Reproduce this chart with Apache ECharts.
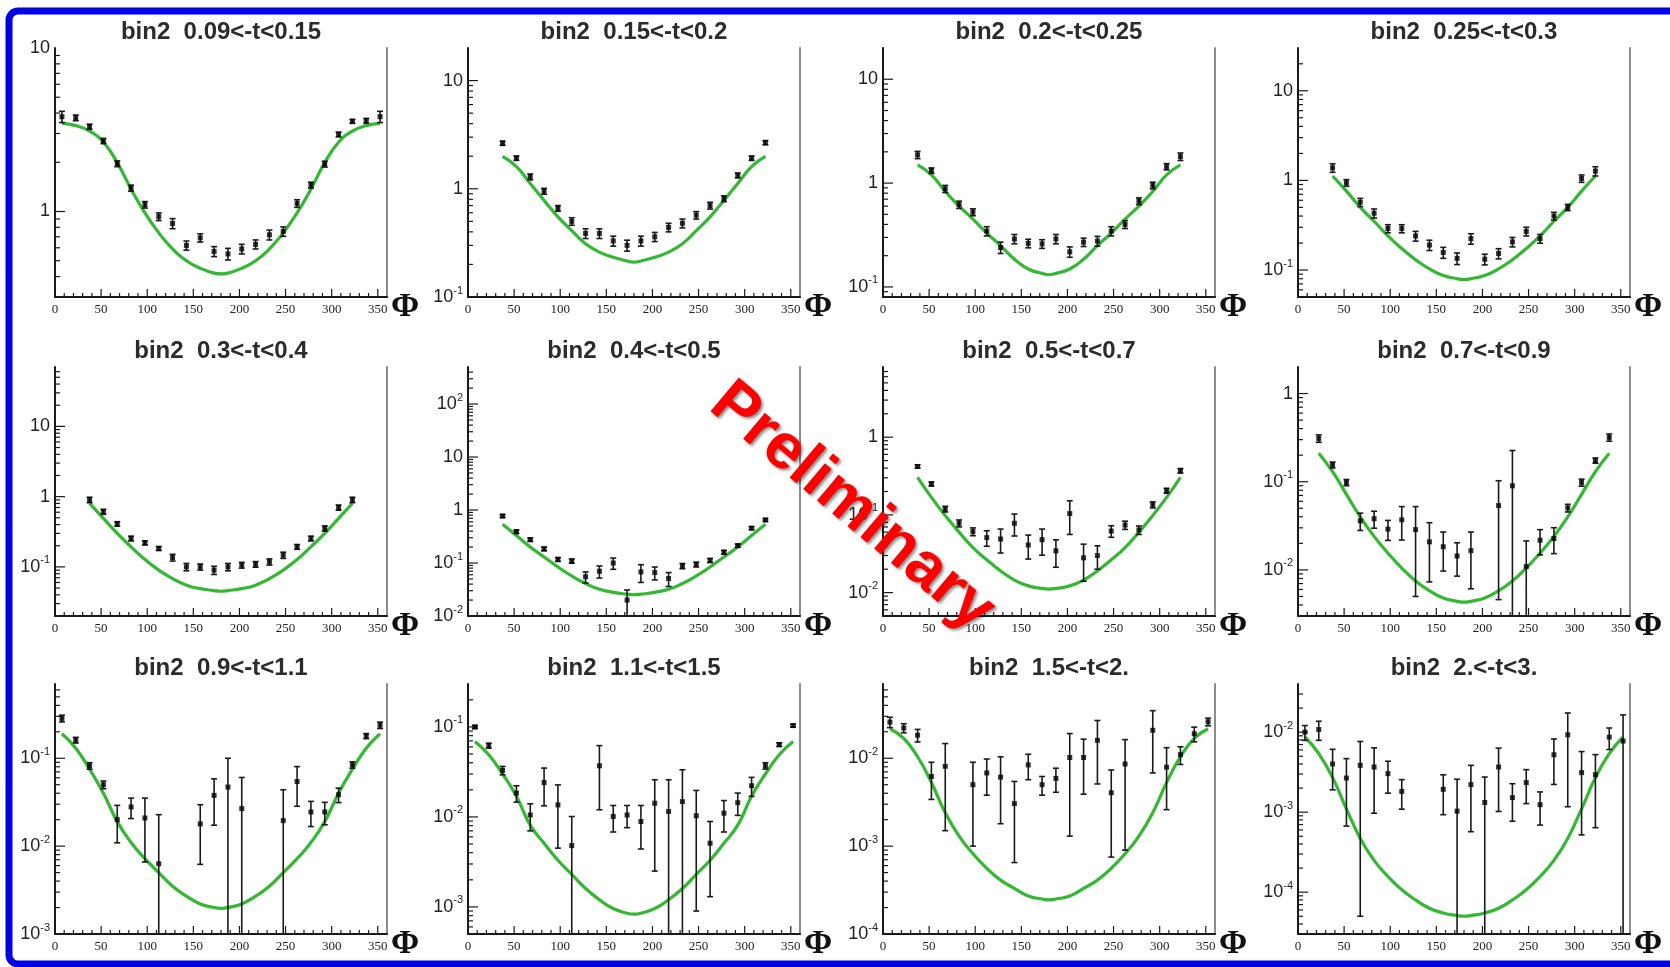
<!DOCTYPE html>
<html><head><meta charset="utf-8">
<script src="https://cdn.jsdelivr.net/npm/echarts@6/dist/echarts.min.js"></script>
<style>html,body{margin:0;padding:0;background:#fff}#c{width:1670px;height:967px}</style>
</head><body><div id="c"></div>
<script>
// ---------------- data ----------------
const titles = ['bin2  0.09<-t<0.15','bin2  0.15<-t<0.2','bin2  0.2<-t<0.25','bin2  0.25<-t<0.3',
  'bin2  0.3<-t<0.4','bin2  0.4<-t<0.5','bin2  0.5<-t<0.7','bin2  0.7<-t<0.9',
  'bin2  0.9<-t<1.1','bin2  1.1<-t<1.5','bin2  1.5<-t<2.','bin2  2.<-t<3.'];
const yRanges = [[0.3,10],[0.1,20],[0.08,20],[0.05,30],[0.02,70],[0.01,500],[0.005,8],[0.003,2],
  [0.001,0.7],[0.0005,0.3],[0.0001,0.07],[0.00003,0.04]];
const xTickLabels = [0,50,100,150,200,250,300,350];

const phiFull = [7.5,22.5,37.5,52.5,67.5,82.5,97.5,112.5,127.5,142.5,157.5,172.5,187.5,202.5,217.5,232.5,247.5,262.5,277.5,292.5,307.5,322.5,337.5,352.5];
const phiMid = [37.5,52.5,67.5,82.5,97.5,112.5,127.5,142.5,157.5,172.5,187.5,202.5,217.5,232.5,247.5,262.5,277.5,292.5,307.5,322.5];
const phi8 = [22.5,37.5,52.5,67.5,82.5,97.5,112.5,127.5,142.5,157.5,172.5,187.5,217.5,232.5,247.5,262.5,277.5,292.5,307.5,322.5,337.5];
const phi9 = [7.5,22.5,37.5,52.5,67.5,82.5,97.5,112.5,157.5,172.5,187.5,202.5,247.5,262.5,277.5,292.5,307.5,322.5,337.5,352.5];
const phi10 = [7.5,22.5,37.5,52.5,67.5,82.5,97.5,112.5,142.5,157.5,172.5,187.5,202.5,217.5,232.5,247.5,262.5,277.5,292.5,307.5,322.5,337.5,352.5];
const phi11 = [7.5,22.5,37.5,52.5,67.5,97.5,112.5,127.5,142.5,157.5,172.5,187.5,202.5,217.5,232.5,247.5,262.5,292.5,307.5,322.5,337.5,352.5];
const phi12 = [7.5,22.5,37.5,52.5,67.5,82.5,97.5,112.5,157.5,172.5,187.5,202.5,217.5,232.5,247.5,262.5,277.5,292.5,307.5,322.5,337.5,352.5];

// phi positions where the fitted curves were read
const curvePhiFull = [7.5,22.5,37.5,52.5,67.5,82.5,97.5,112.5,127.5,142.5,157.5,172.5,180,187.5,202.5,217.5,232.5,247.5,262.5,277.5,292.5,307.5,322.5,337.5,352.5];
const curvePhiMid = [37.5,52.5,67.5,82.5,97.5,112.5,127.5,142.5,157.5,172.5,180,187.5,202.5,217.5,232.5,247.5,262.5,277.5,292.5,307.5,322.5];
const curvePhi8 = [22.5,37.5,52.5,67.5,82.5,97.5,112.5,127.5,142.5,157.5,172.5,180,187.5,202.5,217.5,232.5,247.5,262.5,277.5,292.5,307.5,322.5,337.5];

const val1 = [3.8,3.74,3.3,2.7,1.96,1.39,1.1,0.93,0.845,0.62,0.69,0.57,0.55,0.59,0.63,0.72,0.755,1.12,1.45,1.95,2.96,3.56,3.59,3.8];
const err1 = [0.3,0.15,0.12,0.1,0.08,0.06,0.05,0.05,0.06,0.04,0.04,0.04,0.045,0.04,0.04,0.05,0.05,0.06,0.06,0.08,0.1,0.1,0.12,0.3];
const curve1 = [3.46,3.35,3.1,2.65,1.99,1.37,0.98,0.74,0.59,0.5,0.45,0.42,0.415,0.42,0.45,0.5,0.59,0.74,0.98,1.37,1.99,2.65,3.1,3.35,3.46];

const val2 = [2.64,1.92,1.29,0.95,0.66,0.5,0.387,0.387,0.33,0.30,0.33,0.36,0.44,0.48,0.57,0.70,0.81,1.33,1.92,2.67];
const err2 = [0.12,0.09,0.08,0.06,0.04,0.04,0.04,0.04,0.035,0.035,0.035,0.035,0.04,0.045,0.045,0.05,0.05,0.07,0.09,0.12];
const curve2 = [1.99,1.6,1.12,0.78,0.55,0.41,0.31,0.26,0.233,0.215,0.21,0.215,0.233,0.26,0.31,0.41,0.55,0.78,1.12,1.6,1.99];

const val3 = [1.87,1.32,0.88,0.62,0.525,0.345,0.24,0.29,0.263,0.26,0.29,0.218,0.27,0.277,0.345,0.40,0.67,0.95,1.44,1.8];
const err3 = [0.15,0.08,0.07,0.05,0.04,0.035,0.03,0.03,0.025,0.025,0.03,0.025,0.025,0.03,0.035,0.035,0.05,0.07,0.1,0.15];
const curve3 = [1.5,1.2,0.83,0.6,0.45,0.33,0.25,0.185,0.149,0.135,0.131,0.135,0.149,0.185,0.25,0.33,0.45,0.6,0.83,1.2,1.5];

const val4 = [1.38,0.94,0.57,0.43,0.29,0.29,0.24,0.19,0.157,0.135,0.224,0.132,0.153,0.206,0.27,0.224,0.40,0.50,1.05,1.27];
const err4 = [0.15,0.08,0.06,0.05,0.03,0.03,0.03,0.025,0.022,0.02,0.03,0.018,0.02,0.025,0.03,0.025,0.04,0.04,0.1,0.15];
const curve4 = [1.12,0.76,0.5,0.35,0.24,0.174,0.13,0.103,0.087,0.08,0.078,0.08,0.087,0.103,0.13,0.174,0.24,0.35,0.5,0.76,1.12];

const val5 = [0.9,0.61,0.41,0.254,0.22,0.183,0.136,0.1,0.1,0.09,0.1,0.106,0.109,0.118,0.147,0.193,0.254,0.353,0.70,0.9];
const err5 = [0.08,0.05,0.03,0.02,0.015,0.012,0.015,0.012,0.01,0.012,0.012,0.01,0.01,0.012,0.015,0.015,0.02,0.03,0.06,0.08];
const curve5 = [0.8,0.49,0.3,0.193,0.127,0.09,0.068,0.055,0.049,0.046,0.045,0.046,0.049,0.055,0.068,0.09,0.127,0.193,0.3,0.49,0.8];

const val6 = [0.77,0.39,0.276,0.185,0.117,0.109,0.055,0.07,0.1,0.02,0.068,0.066,0.051,0.088,0.094,0.112,0.16,0.213,0.455,0.65];
const err6 = [0.05,0.03,0.02,0.015,0.01,0.01,0.013,0.018,0.024,0.011,0.025,0.018,0.015,0.01,0.01,0.01,0.013,0.015,0.03,0.04];
const curve6 = [0.54,0.33,0.2,0.13,0.084,0.057,0.041,0.032,0.028,0.0258,0.0252,0.0258,0.028,0.032,0.041,0.057,0.084,0.13,0.2,0.33,0.54];

const val7 = [0.42,0.25,0.119,0.078,0.061,0.051,0.049,0.078,0.041,0.048,0.0345,0.104,0.028,0.030,0.062,0.074,0.064,0.135,0.205,0.37];
const err7 = [0.02,0.015,0.01,0.008,0.007,0.0115,0.0167,0.0245,0.014,0.0177,0.0133,0.048,0.014,0.01,0.0105,0.009,0.008,0.012,0.015,0.025];
const curve7 = [0.305,0.168,0.098,0.06,0.038,0.0265,0.019,0.0145,0.0122,0.0113,0.0111,0.0113,0.0122,0.0145,0.019,0.0265,0.038,0.06,0.098,0.168,0.305];

const val8 = [0.31,0.155,0.098,0.036,0.038,0.029,0.037,0.0286,0.0208,0.0183,0.0144,0.0165,0.0536,0.0898,0.0109,0.0217,0.0227,0.0504,0.098,0.174,0.318];
const err8 = [0.03,0.012,0.008,0.008,0.0083,0.0074,0.0152,0.0236,0.0135,0.0086,0.0059,0.0104,0.049,0.136,0.0104,0.0069,0.0074,0.005,0.009,0.012,0.03];
const curve8 = [0.21,0.13,0.072,0.04,0.024,0.0155,0.0105,0.0075,0.0058,0.0048,0.0044,0.0043,0.0044,0.0048,0.0058,0.0075,0.0105,0.0155,0.024,0.04,0.072,0.13,0.21];

const val9 = [0.284,0.161,0.082,0.050,0.020,0.0279,0.0209,0.0063,0.0179,0.0378,0.047,0.0267,0.0195,0.0544,0.0245,0.0245,0.0385,0.084,0.179,0.238];
const err9 = [0.025,0.012,0.007,0.005,0.0091,0.0073,0.0143,0.0165,0.0117,0.0205,0.053,0.0337,0.0243,0.026,0.0078,0.007,0.0072,0.007,0.012,0.02];
const curve9 = [0.19,0.13,0.075,0.04,0.019,0.011,0.0072,0.005,0.0035,0.0027,0.0022,0.002,0.00196,0.002,0.0022,0.0027,0.0035,0.005,0.0072,0.011,0.019,0.04,0.075,0.13,0.19];

const val10 = [0.1,0.062,0.0329,0.0184,0.0105,0.0241,0.0136,0.0048,0.037,0.0101,0.0105,0.0089,0.0142,0.0115,0.0148,0.0103,0.0051,0.011,0.0144,0.0222,0.037,0.0636,0.1035];
const err10 = [0.004,0.004,0.0035,0.0038,0.0035,0.0108,0.0091,0.0053,0.025,0.0033,0.0029,0.0045,0.0117,0.0144,0.0186,0.0094,0.0038,0.0042,0.004,0.0053,0.003,0.003,0.004];
const curve10 = [0.069,0.049,0.03,0.017,0.0081,0.0051,0.0033,0.0023,0.0016,0.0012,0.00096,0.00085,0.00083,0.00085,0.00096,0.0012,0.0016,0.0023,0.0033,0.0051,0.0081,0.017,0.03,0.049,0.069];

const val11 = [0.0258,0.0221,0.0183,0.0062,0.0081,0.005,0.0068,0.0061,0.00305,0.0084,0.005,0.0059,0.0102,0.0102,0.016,0.00405,0.0086,0.0208,0.0079,0.011,0.019,0.026];
const err11 = [0.0035,0.0026,0.003,0.0028,0.0066,0.004,0.003,0.0043,0.0024,0.0027,0.0012,0.0018,0.0089,0.0063,0.0109,0.0033,0.0077,0.014,0.0053,0.0025,0.0036,0.0026];
const curve11 = [0.0217,0.0168,0.0104,0.0053,0.0024,0.0013,0.00082,0.00056,0.00041,0.00033,0.00027,0.00025,0.000245,0.00025,0.00027,0.00033,0.00041,0.00056,0.00082,0.0013,0.0024,0.0053,0.0104,0.0168,0.0217];

const val12 = [0.01,0.0108,0.004,0.00267,0.00385,0.00367,0.00303,0.00182,0.00193,0.00103,0.00221,0.00132,0.00367,0.00152,0.00234,0.00124,0.00522,0.00927,0.00312,0.00294,0.00867,0.00773];
const err12 = [0.0021,0.0029,0.0021,0.002,0.0038,0.0027,0.0013,0.00073,0.001,0.00155,0.00164,0.00143,0.00265,0.00075,0.00106,0.00055,0.003,0.0081,0.0026,0.0023,0.0026,0.0087];
const curve12 = [0.0087,0.0054,0.0027,0.0011,0.00047,0.00025,0.000157,0.000107,0.00008,0.000063,0.000055,0.000051,0.00005,0.000051,0.000055,0.000063,0.00008,0.000107,0.000157,0.00025,0.00047,0.0011,0.0027,0.0054,0.0087];

const panels = [
  {phi: phiFull, val: val1, err: err1, cPhi: curvePhiFull, curve: curve1},
  {phi: phiMid, val: val2, err: err2, cPhi: curvePhiMid, curve: curve2},
  {phi: phiMid, val: val3, err: err3, cPhi: curvePhiMid, curve: curve3},
  {phi: phiMid, val: val4, err: err4, cPhi: curvePhiMid, curve: curve4},
  {phi: phiMid, val: val5, err: err5, cPhi: curvePhiMid, curve: curve5},
  {phi: phiMid, val: val6, err: err6, cPhi: curvePhiMid, curve: curve6},
  {phi: phiMid, val: val7, err: err7, cPhi: curvePhiMid, curve: curve7},
  {phi: phi8, val: val8, err: err8, cPhi: curvePhi8, curve: curve8},
  {phi: phi9, val: val9, err: err9, cPhi: curvePhiFull, curve: curve9},
  {phi: phi10, val: val10, err: err10, cPhi: curvePhiFull, curve: curve10},
  {phi: phi11, val: val11, err: err11, cPhi: curvePhiFull, curve: curve11},
  {phi: phi12, val: val12, err: err12, cPhi: curvePhiFull, curve: curve12}
];

// ---------------- layout ----------------
const colX = [55, 468, 883, 1298];
const rowTop = [48, 367, 684];
const rowBottom = [297, 616, 934];
const plotW = 332;
const GREEN = '#33b833';
const INK = '#1a1a1a';

function yLabel(v) {
  const l = Math.log10(v), n = Math.round(l);
  if (Math.abs(l - n) > 1e-6) return '';
  if (n === 0) return '{b|1}';
  if (n === 1) return '{b|10}';
  return '{b|10}{s|' + n + '}';
}

function makeErr(yMin, yMax) {
  return function (params, api) {
    const cs = params.coordSys;
    const x = api.value(0), v = api.value(1), e = api.value(2);
    const px = api.coord([x, v])[0];
    const hi = v + e, lo = v - e;
    const yHi = hi >= yMax ? cs.y : api.coord([x, hi])[1];
    const yLo = lo <= yMin ? cs.y + cs.height : api.coord([x, lo])[1];
    const st = {stroke: INK, lineWidth: 1.6};
    const ch = [{type: 'line', shape: {x1: px, y1: yHi, x2: px, y2: yLo}, style: st}];
    if (hi < yMax) ch.push({type: 'line', shape: {x1: px - 3, y1: yHi, x2: px + 3, y2: yHi}, style: st});
    if (lo > yMin) ch.push({type: 'line', shape: {x1: px - 3, y1: yLo, x2: px + 3, y2: yLo}, style: st});
    return {type: 'group', children: ch};
  };
}

function renderTick(params, api) {
  const cs = params.coordSys;
  const kind = api.value(2);
  const p = api.coord([api.value(0), api.value(1)]);
  const st = {stroke: INK, lineWidth: 1.2};
  if (kind < 2) {
    const yb = cs.y + cs.height, len = kind === 0 ? 8 : 4;
    return {type: 'line', shape: {x1: p[0], y1: yb, x2: p[0], y2: yb - len}, style: st};
  }
  const len = kind === 2 ? 10 : 5;
  return {type: 'line', shape: {x1: cs.x, y1: p[1], x2: cs.x + len, y2: p[1]}, style: st};
}

const grid = [], xAxis = [], yAxis = [], series = [], graphic = [];

graphic.push({type: 'rect', z: 50, shape: {x: 9, y: 11, width: 1700, height: 953, r: 9},
  style: {fill: null, stroke: '#0000e6', lineWidth: 7}});

panels.forEach((p, i) => {
  const r = Math.floor(i / 4), c = i % 4;
  const [yMin, yMax] = yRanges[i];
  const top = rowTop[r], h = rowBottom[r] - rowTop[r];
  grid.push({left: colX[c], top: top, width: plotW, height: h, outerBoundsMode: 'none', containLabel: false});
  xAxis.push({type: 'value', gridIndex: i, min: 0, max: 360, interval: 50,
    axisLine: {show: true, onZero: false, lineStyle: {color: INK, width: 2}},
    axisTick: {show: false}, splitLine: {show: false},
    axisLabel: {margin: 6, fontFamily: 'Liberation Serif', fontSize: 13, color: '#222',
      formatter: v => xTickLabels.indexOf(v) >= 0 ? String(v) : ''}});
  yAxis.push({type: 'log', logBase: 10, gridIndex: i, min: yMin, max: yMax, position: 'left',
    axisLine: {show: true, lineStyle: {color: INK, width: 2}},
    axisTick: {show: false}, splitLine: {show: false}, minorTick: {show: false},
    axisLabel: {margin: 5, formatter: yLabel, showMinLabel: true, showMaxLabel: true,
      rich: {b: {fontSize: 18, fontFamily: 'Liberation Sans', color: '#222', lineHeight: 24},
             s: {fontSize: 11, fontFamily: 'Liberation Sans', color: '#222', lineHeight: 12, verticalAlign: 'top'}}}});
  yAxis.push({type: 'value', gridIndex: i, min: 0, max: 1, position: 'right',
    axisLine: {show: true, lineStyle: {color: '#8c8c8c', width: 2}},
    axisTick: {show: false}, axisLabel: {show: false}, splitLine: {show: false}});

  // ticks (axis decoration)
  const ticks = [];
  for (let x = 0; x <= 350; x += 10) ticks.push([x, yMin, x % 50 === 0 ? 0 : 1]);
  for (let n = Math.floor(Math.log10(yMin)) - 1; n <= Math.ceil(Math.log10(yMax)); n++) {
    for (let k = 1; k <= 9; k++) {
      const v = k * Math.pow(10, n);
      if (v > yMin * 1.0001 && v < yMax * 0.9999) ticks.push([0, v, k === 1 ? 2 : 3]);
    }
  }
  series.push({type: 'custom', xAxisIndex: i, yAxisIndex: 2 * i, renderItem: renderTick,
    data: ticks, silent: true, z: 1, encode: {x: 0, y: 1}});

  series.push({type: 'line', xAxisIndex: i, yAxisIndex: 2 * i, smooth: 0.5, symbol: 'none', silent: true,
    data: p.cPhi.map((x, j) => [x, p.curve[j]]), lineStyle: {color: GREEN, width: 3.2}, z: 2});

  series.push({type: 'custom', xAxisIndex: i, yAxisIndex: 2 * i, renderItem: makeErr(yMin, yMax),
    data: p.phi.map((x, j) => [x, p.val[j], p.err[j]]), encode: {x: 0, y: 1}, silent: true, z: 3});

  series.push({type: 'scatter', xAxisIndex: i, yAxisIndex: 2 * i, symbol: 'rect', symbolSize: 5,
    itemStyle: {color: '#000'}, silent: true, z: 4,
    data: p.phi.map((x, j) => [x, p.val[j]])});

  graphic.push({type: 'text', x: colX[c] + 166, y: top - 16, z: 20,
    style: {text: titles[i], font: 'bold 24px "Liberation Sans"', fill: '#2b2b2b',
      textAlign: 'center', textVerticalAlign: 'middle'}});
  graphic.push({type: 'text', x: colX[c] + 350, y: rowBottom[r] + 10, z: 20,
    style: {text: 'Φ', font: 'bold 34px "Liberation Serif"', fill: '#111',
      textAlign: 'center', textVerticalAlign: 'middle'}});
});

graphic.push({type: 'text', x: 852, y: 507, rotation: -40 * Math.PI / 180, z: 100,
  style: {text: 'Preliminary', font: 'bold 64px "Liberation Sans"', fill: '#ff0000',
    textAlign: 'center', textVerticalAlign: 'middle',
    textShadowColor: 'rgba(0,0,0,0.45)', textShadowBlur: 3, textShadowOffsetX: 2, textShadowOffsetY: 2}});

const chart = echarts.init(document.getElementById('c'), null, {renderer: 'canvas'});
chart.setOption({animation: false, backgroundColor: '#ffffff', grid, xAxis, yAxis, series, graphic});
</script>
</body></html>
